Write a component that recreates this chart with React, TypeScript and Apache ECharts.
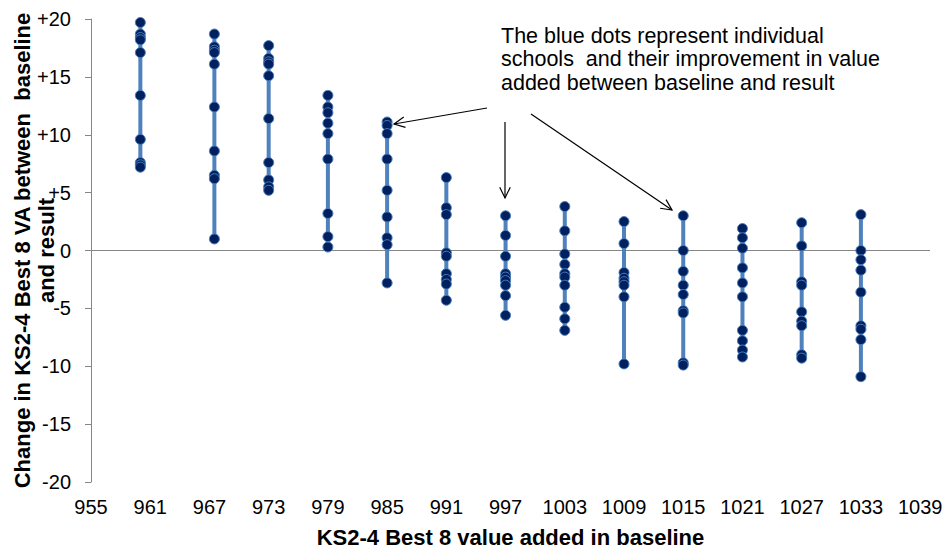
import React, { useEffect, useRef } from "react";
import * as echarts from "echarts";

// X position (KS2-4 Best 8 VA in baseline) of each group of schools
const groupX = [960, 967.5, 973, 979, 985, 991, 997, 1003, 1009, 1015, 1021, 1027, 1033];

// Change in VA between baseline and result, per group
const g960 = [19.7, 18.7, 18.4, 18.2, 17.1, 13.4, 9.6, 7.6, 7.4, 7.2];
const g967 = [18.7, 17.6, 17.3, 17.1, 16.1, 12.4, 8.6, 6.5, 6.2, 1.0];
const g973 = [17.7, 16.6, 16.3, 16.1, 15.1, 11.4, 7.6, 6.1, 5.5, 5.2];
const g979 = [13.4, 12.4, 11.9, 11.0, 10.1, 7.9, 3.2, 1.2, 0.3];
const g985 = [11.1, 10.8, 10.1, 7.9, 5.2, 2.9, 1.1, 0.5, -2.8];
const g991 = [6.3, 3.7, 3.1, -0.2, -0.5, -2.0, -2.5, -2.9, -4.3];
const g997 = [3.0, 1.3, -0.5, -2.0, -2.3, -2.6, -3.0, -3.9, -5.6];
const g1003 = [3.8, 1.7, -0.3, -1.2, -2.0, -2.3, -3.0, -4.9, -5.9, -6.9];
const g1009 = [2.5, 0.6, -1.9, -2.4, -2.7, -3.0, -4.0, -9.8];
const g1015 = [3.0, 0.0, -1.8, -3.0, -3.8, -5.2, -5.4, -9.7, -9.9];
const g1021 = [1.9, 1.1, 0.2, -1.5, -2.8, -4.0, -6.9, -7.8, -8.6, -9.2];
const g1027 = [2.4, 0.4, -2.7, -3.0, -5.3, -6.1, -6.5, -9.0, -9.3];
const g1033 = [3.1, 0.0, -0.8, -1.7, -3.6, -6.5, -6.8, -7.7, -10.9];

const groups = [g960, g967, g973, g979, g985, g991, g997, g1003, g1009, g1015, g1021, g1027, g1033];

// Axis ticks
const xTickLabels = [955, 961, 967, 973, 979, 985, 991, 997, 1003, 1009, 1015, 1021, 1027, 1033, 1039];
const xMin = 955;
const xMax = 1040;
const yMin = -20;
const yMax = 20;
const yStep = 5;

const annotationLines = [
  "The blue dots represent individual",
  "schools  and their improvement in value",
  "added between baseline and result",
];

const FONT = "'Liberation Sans', Arial, sans-serif";

function arrow(x1: number, y1: number, x2: number, y2: number) {
  const ang = Math.atan2(y2 - y1, x2 - x1);
  const len = 12;
  const spread = (26 * Math.PI) / 180;
  const p1 = [x2 - len * Math.cos(ang - spread), y2 - len * Math.sin(ang - spread)];
  const p2 = [x2 - len * Math.cos(ang + spread), y2 - len * Math.sin(ang + spread)];
  const style = { stroke: "#000", lineWidth: 1.2, fill: null as any };
  return [
    { type: "line", shape: { x1, y1, x2, y2 }, style, silent: true },
    { type: "polyline", shape: { points: [p1, [x2, y2], p2] }, style, silent: true },
  ];
}

export default function App() {
  const ref = useRef<HTMLDivElement>(null);

  useEffect(() => {
    if (!ref.current) return;
    const chart = echarts.init(ref.current, undefined, { renderer: "svg" });

    const series: any[] = groups.map((vals, i) => ({
      type: "line",
      data: vals.map((v) => [groupX[i], v]),
      symbol: "circle",
      symbolSize: 10,
      lineStyle: { color: "#4F81BD", width: 4 },
      itemStyle: { color: "#002060", borderColor: "#4A7EBB", borderWidth: 1 },
      z: 3,
    }));
    series[0].markLine = {
      silent: true,
      symbol: ["none", "none"],
      label: { show: false },
      lineStyle: { color: "#868686", width: 1, type: "solid" },
      data: [{ yAxis: 0 }],
      z: 1,
    };

    chart.setOption({
      animation: false,
      textStyle: { fontFamily: FONT },
      grid: { left: 91, right: 16, top: 19, bottom: 68, containLabel: false, outerBoundsMode: "none" },
      xAxis: {
        type: "value",
        min: xMin,
        max: xMax,
        name: "KS2-4 Best 8 value added in baseline",
        nameLocation: "middle",
        nameGap: 44,
        nameMoveOverlap: false,
        nameTextStyle: { fontSize: 22, fontWeight: "bold", color: "#000", fontFamily: FONT },
        axisLine: { show: false },
        axisTick: { show: false },
        splitLine: { show: false },
        axisLabel: {
          customValues: xTickLabels,
          fontSize: 20,
          color: "#000",
          margin: 15,
          fontFamily: FONT,
          formatter: (v: number) => String(v),
        },
      },
      yAxis: {
        type: "value",
        min: yMin,
        max: yMax,
        interval: yStep,
        name: "Change in KS2-4 Best 8 VA between  baseline\nand result",
        nameLocation: "middle",
        nameRotate: 90,
        nameGap: 33,
        nameMoveOverlap: false,
        nameTextStyle: { fontSize: 22, fontWeight: "bold", color: "#000", lineHeight: 24, fontFamily: FONT },
        axisLine: { show: true, lineStyle: { color: "#868686", width: 1 } },
        axisTick: { show: true, inside: false, length: 6, lineStyle: { color: "#868686" } },
        splitLine: { show: false },
        axisLabel: {
          fontSize: 20,
          color: "#000",
          margin: 20,
          fontFamily: FONT,
          formatter: (v: number) => (v > 0 ? "+" + v : String(v)),
        },
      },
      series,
      graphic: [
        {
          type: "text",
          left: 501,
          top: 24,
          silent: true,
          style: {
            text: annotationLines.join("\n"),
            font: `21.5px ${FONT}`,
            fill: "#000",
            lineHeight: 23.5,
          },
        },
        ...arrow(487, 108, 394, 124),
        ...arrow(505, 122, 505, 198),
        ...arrow(531, 114, 672, 210),
      ],
    });

    return () => chart.dispose();
  }, []);

  return <div ref={ref} style={{ position: "absolute", left: 0, top: 0, width: 946, height: 550 }} />;
}
